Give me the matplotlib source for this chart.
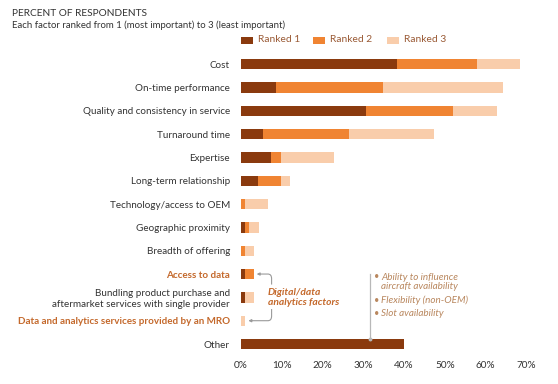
import matplotlib.pyplot as plt
from matplotlib.patches import Rectangle, PathPatch
from matplotlib.path import Path

plt.rcParams['font.family'] = ['Lato', 'DejaVu Sans']

# データ（%）
categories = [
    "Cost",
    "On-time performance",
    "Quality and consistency in service",
    "Turnaround time",
    "Expertise",
    "Long-term relationship",
    "Technology/access to OEM",
    "Geographic proximity",
    "Breadth of offering",
    "Access to data",
    "Bundling product purchase and\naftermarket services with single provider",
    "Data and analytics services provided by an MRO",
    "Other",
]
ranked1 = [38.2, 8.6, 30.6, 5.3, 7.4, 4.2, 0.0, 1.0, 0.0, 0.9, 0.9, 0.0, 40.0]
ranked2 = [19.6, 26.3, 21.3, 21.1, 2.4, 5.6, 1.0, 1.0, 1.0, 2.3, 0.0, 0.0, 0.0]
ranked3 = [10.7, 29.4, 10.8, 20.8, 13.1, 2.1, 5.5, 2.3, 2.2, 0.0, 2.3, 0.9, 0.0]
series_names = ["Ranked 1", "Ranked 2", "Ranked 3"]
xticks = [0, 10, 20, 30, 40, 50, 60, 70]
highlight = {"Access to data", "Data and analytics services provided by an MRO"}
other_notes = ["Ability to influence\naircraft availability", "Flexibility (non-OEM)", "Slot availability"]

C1 = "#8a3a0e"
C2 = "#f08432"
C3 = "#f9cdab"
TXT = "#333333"
HL = "#c4692c"
NOTE = "#b9875e"
GRAY = "#9a9a9a"

W, H = 558, 384
fig = plt.figure(figsize=(W / 100, H / 100), dpi=100)
ax = fig.add_axes([241 / W, 1 - 355.7 / H, 311 / W, 303.3 / H])

ys = list(range(len(categories)))
left = [0] * len(categories)
for vals, col in [(ranked1, C1), (ranked2, C2), (ranked3, C3)]:
    ax.barh(ys, vals, left=left, height=0.44, color=col, linewidth=0)
    left = [a + b for a, b in zip(left, vals)]

ax.set_xlim(0, 311 / 4.08)
ax.set_ylim(len(categories) - 0.5, -0.5)
ax.set_yticks(ys)
ax.set_yticklabels(categories, fontsize=7.1, color=TXT)
for lab, cat in zip(ax.get_yticklabels(), categories):
    if cat in highlight:
        lab.set_color(HL)
        lab.set_fontweight("bold")
ax.set_xticks(xticks)
ax.set_xticklabels([f"{t}%" for t in xticks], fontsize=7.2, color=TXT)
ax.tick_params(axis="both", length=0)
ax.tick_params(axis="y", pad=8)
ax.tick_params(axis="x", pad=4)
for s in ax.spines.values():
    s.set_visible(False)

# タイトル
fig.text(12 / W, 1 - 13 / H, "PERCENT OF RESPONDENTS", fontsize=7.3, color=TXT, va="center")
fig.text(12 / W, 1 - 25 / H, "Each factor ranked from 1 (most important) to 3 (least important)",
         fontsize=6.9, color=TXT, va="center")

# 凡例
for name, col, x0 in zip(series_names, [C1, C2, C3], [241, 313, 387]):
    fig.patches.append(Rectangle((x0 / W, 1 - 43.5 / H), 12 / W, 7 / H,
                                 transform=fig.transFigure, color=col, linewidth=0))
    fig.text((x0 + 17) / W, 1 - 40 / H, name, fontsize=7.4, color="#9a5a35", va="center")

# デジタル/データ分析の括弧
i_acc = categories.index("Access to data")
i_dat = categories.index("Data and analytics services provided by an MRO")
xb = 7.5
upper = Path([(4.4, i_acc), (xb - 0.9, i_acc), (xb, i_acc), (xb, i_acc + 0.2), (xb, i_acc + 0.45)],
             [Path.MOVETO, Path.LINETO, Path.CURVE3, Path.CURVE3, Path.LINETO])
lower = Path([(xb, i_dat - 0.5), (xb, i_dat - 0.2), (xb, i_dat), (xb - 0.9, i_dat), (2.6, i_dat)],
             [Path.MOVETO, Path.LINETO, Path.CURVE3, Path.CURVE3, Path.LINETO])
for p in (upper, lower):
    ax.add_patch(PathPatch(p, fill=False, edgecolor=GRAY, lw=0.8))
ax.annotate("", xy=(3.85, i_acc), xytext=(4.5, i_acc),
            arrowprops=dict(arrowstyle="-|>", mutation_scale=4, color=GRAY, lw=0.8,
                            shrinkA=0, shrinkB=0))
ax.annotate("", xy=(1.8, i_dat), xytext=(2.7, i_dat),
            arrowprops=dict(arrowstyle="-|>", mutation_scale=4, color=GRAY, lw=0.8,
                            shrinkA=0, shrinkB=0))
ax.text(6.5, i_acc + 1.0, "Digital/data\nanalytics factors", fontsize=7.4,
        color=HL, fontweight="bold", style="italic", va="center", ha="left", linespacing=1.05,
        bbox=dict(facecolor="white", edgecolor="none", pad=0.5))

# Other の注記
i_oth = categories.index("Other")
ax.plot([31.6, 31.6], [i_acc - 0.02, i_oth - 0.22], color="#b8b8b8", lw=0.9)
ax.plot([31.6], [i_oth - 0.22], marker="o", ms=1.8, color="#b8b8b8")
note_y = [i_acc + 0.34, i_acc + 1.14, i_acc + 1.67]
for txt, y in zip(other_notes, note_y):
    ax.text(32.5, y - (0.22 if "\n" in txt else 0), "•", fontsize=6.5, color=NOTE,
            va="center", ha="left")
    ax.text(34.4, y, txt, fontsize=7.1, color=NOTE, style="italic", va="center", ha="left",
            linespacing=1.0)

fig.savefig("out.png", dpi=100)
